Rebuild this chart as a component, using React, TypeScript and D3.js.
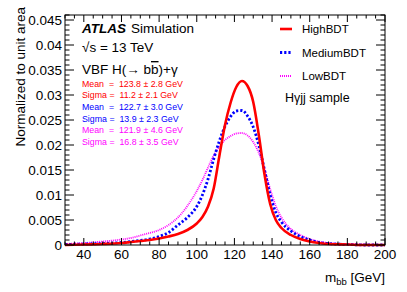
import React from 'react';
import * as d3 from 'd3';

// m_bb sample points [GeV]
const mbb = [30, 40, 50, 60, 65, 70, 75, 80, 85, 90, 95, 100, 103, 106, 109, 112, 115, 118, 121, 124, 127, 130, 133, 136, 139, 142, 145, 150, 155, 160, 165, 170, 180, 190, 200];

const highBDT = [0.0, 0.0001, 0.0002, 0.0004, 0.0006, 0.0008, 0.001, 0.0013, 0.0017, 0.0022, 0.003, 0.0043, 0.0056, 0.0077, 0.0113, 0.0178, 0.024, 0.0285, 0.0316, 0.0328, 0.0318, 0.0286, 0.0219, 0.0141, 0.0082, 0.005, 0.0034, 0.002, 0.0012, 0.0007, 0.0004, 0.0002, 0.0001, 0.0, 0.0];
const mediumBDT = [0.0001, 0.0002, 0.0003, 0.0005, 0.0007, 0.0009, 0.0012, 0.0017, 0.0025, 0.004, 0.0055, 0.0077, 0.01, 0.0132, 0.0172, 0.0208, 0.0237, 0.0257, 0.0268, 0.0269, 0.0258, 0.0236, 0.0199, 0.015, 0.01, 0.0065, 0.0046, 0.0028, 0.0017, 0.001, 0.0005, 0.0003, 0.0001, 0.0, 0.0];
const lowBDT = [0.0002, 0.0004, 0.0007, 0.0011, 0.0014, 0.0019, 0.0024, 0.003, 0.004, 0.0055, 0.0078, 0.0108, 0.013, 0.0155, 0.0179, 0.0197, 0.021, 0.0218, 0.0223, 0.0224, 0.0219, 0.0206, 0.0184, 0.0152, 0.0112, 0.0078, 0.0055, 0.0032, 0.002, 0.0012, 0.0007, 0.0004, 0.0002, 0.0001, 0.0];

const yTicks = [0, 0.005, 0.01, 0.015, 0.02, 0.025, 0.03, 0.035, 0.04, 0.045];
const yTickLabels = ['0', '0.005', '0.01', '0.015', '0.02', '0.025', '0.03', '0.035', '0.04', '0.045'];
const xTicks = [40, 60, 80, 100, 120, 140, 160, 180, 200];

const seriesNames = ['HighBDT', 'MediumBDT', 'LowBDT'];
const seriesColors = ['#ff0000', '#0000ff', '#ff00ff'];
const fitLines = [
  'Mean  =  123.8 ± 2.8 GeV',
  'Sigma =  11.2 ± 2.1 GeV',
  'Mean  =  122.7 ± 3.0 GeV',
  'Sigma =  13.9 ± 2.3 GeV',
  'Mean  =  121.9 ± 4.6 GeV',
  'Sigma =  16.8 ± 3.5 GeV',
];
const fitColors = ['#ff0000', '#ff0000', '#0000ff', '#0000ff', '#ff00ff', '#ff00ff'];

const W = 407;
const H = 292;
const L = 65, R = 385, T = 15, B = 245;
const FONT = '"Liberation Sans", Arial, Helvetica, sans-serif';

const App: React.FC = () => {
  const x = d3.scaleLinear().domain([30, 200]).range([L, R]);
  const y = d3.scaleLinear().domain([0, 0.046]).range([B, T]);

  const line = (vals: number[]) =>
    d3
      .line<number>()
      .x((_, i) => x(mbb[i]))
      .y((d) => y(d))
      .curve(d3.curveMonotoneX)(vals) || undefined;

  const styles = [
    { w: 2.6, dash: undefined as string | undefined },
    { w: 2.8, dash: '2.2 2' },
    { w: 1.8, dash: '1 1' },
  ];
  const data = [highBDT, mediumBDT, lowBDT];

  const xMinor = d3.range(30, 200.1, 5);
  const yMinor = d3.range(0, 0.0461, 0.001);

  return (
    <div style={{ position: 'fixed', left: 0, top: 0 }}>
      <svg width={W} height={H} style={{ display: 'block', background: '#fff' }} fontFamily={FONT}>
        {/* curves */}
        <g fill="none">
          {data
            .map((vals, i) => (
              <path
                key={seriesNames[i]}
                d={line(vals)}
                stroke={seriesColors[i]}
                strokeWidth={styles[i].w}
                strokeDasharray={styles[i].dash}
              />
            ))
            .reverse()}
        </g>

        {/* frame */}
        <rect x={L} y={T} width={R - L} height={B - T} fill="none" stroke="#000" strokeWidth={1} />

        {/* ticks */}
        <g stroke="#000" strokeWidth={1}>
          {xMinor.map((v) => {
            const major = v % 20 === 0;
            const len = major ? 7 : 3.5;
            return (
              <g key={'xt' + v}>
                <line x1={x(v)} x2={x(v)} y1={B} y2={B - len} />
                <line x1={x(v)} x2={x(v)} y1={T} y2={T + len} />
              </g>
            );
          })}
          {yMinor.map((v, i) => {
            const major = i % 5 === 0;
            const len = major ? 9 : 4.5;
            return (
              <g key={'yt' + i}>
                <line x1={L} x2={L + len} y1={y(v)} y2={y(v)} />
                <line x1={R} x2={R - len} y1={y(v)} y2={y(v)} />
              </g>
            );
          })}
        </g>

        {/* tick labels */}
        <g fontSize={13.5} fill="#000">
          {xTicks.map((v) => (
            <text key={'xl' + v} x={x(v)} y={258.5} textAnchor="middle">
              {v}
            </text>
          ))}
          {yTicks.map((v, i) => (
            <text key={'yl' + v} x={62} y={y(v) + 5} textAnchor="end">
              {yTickLabels[i]}
            </text>
          ))}
        </g>

        {/* axis titles */}
        <text x={25} y={T - 8} transform={`rotate(-90, 25, ${T - 8})`} textAnchor="end" fontSize={13.5}>
          Normalized to unit area
        </text>
        <text x={R} y={282} textAnchor="end" fontSize={13.5}>
          m<tspan fontSize={9.5} dy={3}>bb</tspan>
          <tspan dy={-3}> [GeV]</tspan>
        </text>

        {/* ATLAS label */}
        <text x={82} y={33} fontSize={13.5}>
          <tspan fontWeight="bold" fontStyle="italic">ATLAS</tspan>
          <tspan dx={5}>Simulation</tspan>
        </text>
        <text x={82} y={52} fontSize={13.5}>
          √s = 13 TeV
        </text>
        <text x={82} y={74} fontSize={13.5}>
          VBF H(→ b<tspan style={{ textDecoration: 'overline' }}>b</tspan>)+γ
        </text>

        {/* fit results */}
        <g fontSize={8.8}>
          {fitLines.map((t, i) => (
            <text key={'fit' + i} x={82} y={86.5 + i * 11.7} fill={fitColors[i]} style={{ whiteSpace: 'pre' }}>
              {t}
            </text>
          ))}
        </g>

        {/* legend */}
        <g fontSize={11.5}>
          {seriesNames.map((n, i) => {
            const ly = 29 + i * 23.5;
            return (
              <g key={'lg' + n}>
                <line
                  x1={280}
                  x2={292}
                  y1={ly}
                  y2={ly}
                  stroke={seriesColors[i]}
                  strokeWidth={styles[i].w}
                  strokeDasharray={styles[i].dash}
                />
                <text x={302} y={ly + 4}>
                  {n}
                </text>
              </g>
            );
          })}
          <text x={285} y={101.5} fontSize={12.5}>
            Hγjj sample
          </text>
        </g>
      </svg>
    </div>
  );
};

export default App;
